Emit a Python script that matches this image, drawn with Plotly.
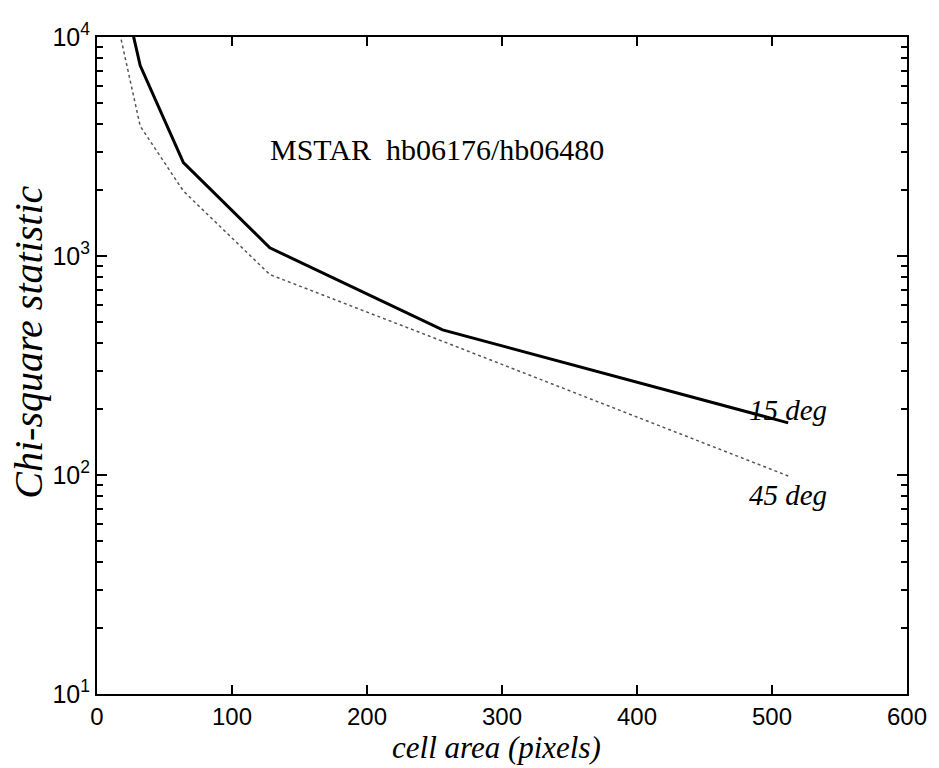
import plotly.graph_objects as go

# data
cell_area = [16, 32, 64, 128, 256, 512]
chi_15deg = [20000, 7400, 2670, 1090, 460, 173]
chi_45deg = [11000, 3920, 1980, 823, 408, 99]

x_ticks = [0, 100, 200, 300, 400, 500, 600]
y_ticks = [10, 100, 1000, 10000]
y_ticktext = ["10<sup>1</sup>", "10<sup>2</sup>", "10<sup>3</sup>", "10<sup>4</sup>"]

serif = "Liberation Serif, Times New Roman, serif"
sans = "Liberation Sans, Arial, sans-serif"

W, H = 939, 768
ML, MR, MT, MB = 97, 24, 37, 74
PW, PH = W - ML - MR, H - MT - MB

fig = go.Figure()
fig.add_trace(go.Scatter(x=cell_area, y=chi_15deg, mode="lines",
                         line=dict(color="black", width=3), name="15 deg"))
fig.add_trace(go.Scatter(x=cell_area, y=chi_45deg, mode="lines",
                         line=dict(color="#555555", width=1.5, dash="dot"), name="45 deg"))

fig.update_layout(
    width=W, height=H,
    margin=dict(l=ML, r=MR, t=MT, b=MB),
    paper_bgcolor="white", plot_bgcolor="white",
    showlegend=False,
    font=dict(family=sans, size=24, color="black"),
)

fig.update_xaxes(
    range=[0, 600], tickvals=x_ticks, ticktext=[str(v) for v in x_ticks],
    showline=True, linecolor="black", linewidth=2, mirror="ticks",
    ticks="inside", ticklen=9, tickwidth=2, tickcolor="black",
    showgrid=False, zeroline=False,
    tickfont=dict(family=sans, size=24, color="black"),
)
fig.update_yaxes(
    type="log", range=[1, 4], tickvals=y_ticks, ticktext=y_ticktext,
    showline=True, linecolor="black", linewidth=2, mirror="allticks",
    ticks="inside", ticklen=10, tickwidth=2, tickcolor="black",
    minor=dict(ticks="inside", ticklen=6, tickwidth=1.5, tickcolor="black", dtick="D1", showgrid=False),
    showgrid=False, zeroline=False,
    tickfont=dict(family=sans, size=25, color="black"),
)

# axis titles as paper annotations (paper coords are relative to the plot area)
fig.add_annotation(x=(500 - ML) / PW, y=(H - MB - 747) / PH, xref="paper", yref="paper",
                   text="<i>cell area (pixels)</i>", showarrow=False,
                   xanchor="center", yanchor="middle",
                   font=dict(family=serif, size=31, color="black"))
fig.add_annotation(x=(27 - ML) / PW, y=(H - MB - 342) / PH,
                   xref="paper", yref="paper",
                   text="<i>Chi-square statistic</i>", showarrow=False, textangle=-90,
                   xanchor="center", yanchor="middle",
                   font=dict(family=serif, size=40, color="black"))

fig.add_annotation(x=127, y=3.487, xref="x", yref="y", text="MSTAR  hb06176/hb06480",
                   showarrow=False, xanchor="left", yanchor="middle",
                   font=dict(family=serif, size=30, color="black"))
fig.add_annotation(x=512, y=2.298, xref="x", yref="y", text="<i>15 deg</i>",
                   showarrow=False, xanchor="center", yanchor="middle",
                   font=dict(family=serif, size=29, color="black"))
fig.add_annotation(x=512, y=1.910, xref="x", yref="y", text="<i>45 deg</i>",
                   showarrow=False, xanchor="center", yanchor="middle",
                   font=dict(family=serif, size=29, color="black"))

fig.write_html("out.html")
